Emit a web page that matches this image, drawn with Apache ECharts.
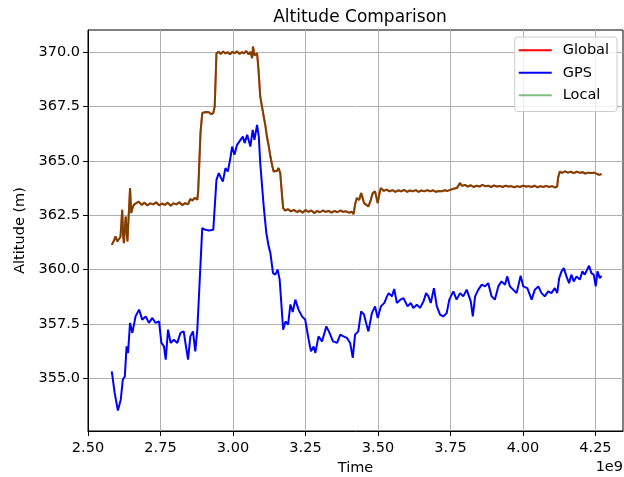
<!DOCTYPE html>
<html>
<head>
<meta charset="utf-8">
<script src="https://cdn.jsdelivr.net/npm/echarts@6/dist/echarts.min.js"></script>
<style>
    html, body {margin: 0; padding: 0; background: #fff;}
    #chart {width: 624px; height: 477px;}
</style>
</head>
<body>
<div id="chart"></div>
<script>
// time is in units of 1e9 (offset shown as "1e9" under the axis)
const globalTime = [2.582, 2.590, 2.595, 2.601, 2.607, 2.612, 2.618, 2.621, 2.624, 2.627, 2.630, 2.633, 2.636, 2.640, 2.645, 2.649, 2.654, 2.658, 2.665, 2.675,
    2.685, 2.695, 2.705, 2.715, 2.725, 2.735, 2.745, 2.755, 2.765, 2.775, 2.785, 2.795, 2.805, 2.815, 2.825, 2.835, 2.845, 2.853, 2.860, 2.868,
    2.877, 2.880, 2.888, 2.894, 2.900, 2.906, 2.911, 2.917, 2.925, 2.932, 2.937, 2.943, 2.950, 2.958, 2.966, 2.974, 2.982, 2.990, 2.998, 3.006,
    3.014, 3.022, 3.030, 3.038, 3.046, 3.054, 3.060, 3.066, 3.069, 3.074, 3.083, 3.088, 3.094, 3.100, 3.106, 3.112, 3.117, 3.123, 3.129, 3.135,
    3.140, 3.146, 3.152, 3.157, 3.163, 3.168, 3.173, 3.180, 3.190, 3.200, 3.210, 3.220, 3.230, 3.240, 3.250, 3.260, 3.270, 3.280, 3.290, 3.300,
    3.310, 3.320, 3.330, 3.340, 3.350, 3.360, 3.370, 3.380, 3.390, 3.400, 3.410, 3.416, 3.421, 3.427, 3.435, 3.442, 3.447, 3.452, 3.460, 3.467,
    3.475, 3.482, 3.490, 3.496, 3.499, 3.505, 3.510, 3.520, 3.530, 3.540, 3.550, 3.560, 3.570, 3.580, 3.590, 3.600, 3.610, 3.620, 3.630, 3.640,
    3.650, 3.660, 3.670, 3.680, 3.690, 3.700, 3.710, 3.720, 3.730, 3.740, 3.749, 3.760, 3.772, 3.783, 3.790, 3.800, 3.810, 3.820, 3.830, 3.840,
    3.850, 3.860, 3.870, 3.880, 3.890, 3.900, 3.910, 3.920, 3.930, 3.940, 3.950, 3.960, 3.970, 3.980, 3.990, 4.000, 4.010, 4.020, 4.030, 4.040,
    4.050, 4.060, 4.070, 4.080, 4.090, 4.100, 4.110, 4.118, 4.121, 4.127, 4.135, 4.145, 4.155, 4.165, 4.175, 4.185, 4.195, 4.205, 4.215, 4.225,
    4.235, 4.245, 4.255, 4.263, 4.271];
const globalAlt = [361.14, 361.35, 361.53, 361.30, 361.22, 361.50, 362.75, 361.60, 361.22, 361.90, 362.44, 361.80, 361.30, 362.40, 363.75, 362.60, 362.85, 362.98, 363.05, 363.13,
    362.98, 363.08, 362.95, 363.05, 363.00, 363.10, 362.96, 363.04, 362.98, 363.08, 362.94, 363.05, 363.00, 363.10, 362.97, 363.06, 363.00, 363.25, 363.18, 363.30,
    363.22, 363.60, 366.30, 367.20, 367.15, 367.25, 367.18, 367.24, 367.15, 367.20, 367.50, 369.95, 370.02, 369.92, 370.03, 369.94, 370.00, 369.90, 370.02, 369.95,
    370.04, 369.92, 370.00, 369.95, 370.05, 369.90, 370.02, 369.72, 370.26, 369.85, 369.95, 369.20, 367.96, 367.50, 367.04, 366.60, 366.12, 365.70, 365.20, 364.80,
    364.51, 364.60, 364.55, 364.67, 364.44, 363.60, 362.83, 362.72, 362.78, 362.68, 362.75, 362.65, 362.72, 362.62, 362.74, 362.66, 362.72, 362.60, 362.70, 362.64,
    362.72, 362.66, 362.70, 362.62, 362.70, 362.64, 362.72, 362.66, 362.68, 362.62, 362.66, 362.55, 363.00, 363.29, 363.20, 363.52, 363.30, 363.06, 362.98, 362.90,
    363.20, 363.52, 363.60, 363.67, 363.06, 363.50, 363.75, 363.62, 363.68, 363.60, 363.66, 363.58, 363.65, 363.60, 363.67, 363.58, 363.64, 363.60, 363.66, 363.58,
    363.64, 363.60, 363.66, 363.60, 363.65, 363.58, 363.62, 363.60, 363.65, 363.62, 363.67, 363.72, 363.75, 363.98, 363.85, 363.90, 363.82, 363.88, 363.80, 363.86,
    363.82, 363.90, 363.84, 363.86, 363.80, 363.87, 363.82, 363.85, 363.80, 363.86, 363.82, 363.84, 363.78, 363.84, 363.80, 363.86, 363.82, 363.84, 363.80, 363.86,
    363.78, 363.84, 363.80, 363.85, 363.80, 363.84, 363.78, 363.82, 364.21, 364.51, 364.45, 364.52, 364.46, 364.50, 364.44, 364.50, 364.46, 364.48, 364.42, 364.46,
    364.44, 364.46, 364.40, 364.36, 364.40];

const gpsTime = [2.582, 2.592, 2.603, 2.613, 2.620, 2.627, 2.633, 2.638, 2.645, 2.653, 2.664, 2.676, 2.687, 2.699, 2.710, 2.722, 2.733, 2.745, 2.753, 2.762,
    2.768, 2.776, 2.785, 2.796, 2.808, 2.819, 2.830, 2.836, 2.845, 2.853, 2.862, 2.870, 2.877, 2.894, 2.905, 2.917, 2.932, 2.943, 2.951, 2.959,
    2.965, 2.974, 2.982, 2.991, 2.997, 3.005, 3.014, 3.026, 3.034, 3.040, 3.049, 3.060, 3.068, 3.074, 3.083, 3.089, 3.094, 3.106, 3.115, 3.123,
    3.129, 3.138, 3.146, 3.154, 3.161, 3.173, 3.181, 3.190, 3.198, 3.206, 3.215, 3.226, 3.238, 3.249, 3.261, 3.269, 3.278, 3.284, 3.295, 3.307,
    3.322, 3.333, 3.345, 3.359, 3.370, 3.381, 3.393, 3.404, 3.413, 3.421, 3.432, 3.442, 3.452, 3.459, 3.467, 3.479, 3.490, 3.499, 3.510, 3.522,
    3.531, 3.537, 3.548, 3.556, 3.565, 3.577, 3.588, 3.602, 3.613, 3.622, 3.634, 3.645, 3.657, 3.666, 3.674, 3.682, 3.693, 3.703, 3.714, 3.725,
    3.737, 3.746, 3.760, 3.771, 3.783, 3.794, 3.806, 3.820, 3.827, 3.835, 3.846, 3.858, 3.869, 3.880, 3.892, 3.903, 3.915, 3.926, 3.938, 3.946,
    3.955, 3.966, 3.978, 3.992, 4.001, 4.015, 4.030, 4.041, 4.053, 4.064, 4.075, 4.087, 4.098, 4.110, 4.118, 4.125, 4.133, 4.141, 4.150, 4.159,
    4.167, 4.175, 4.185, 4.196, 4.205, 4.213, 4.228, 4.236, 4.244, 4.251, 4.257, 4.265, 4.271];
const gpsAlt = [355.32, 354.33, 353.52, 354.02, 354.94, 355.09, 356.47, 356.17, 357.55, 357.09, 357.85, 358.16, 357.70, 357.85, 357.55, 357.78, 357.55, 357.62, 356.63, 356.47,
    355.86, 357.24, 356.63, 356.78, 356.63, 357.09, 357.16, 356.63, 355.86, 356.93, 357.16, 356.24, 357.24, 361.91, 361.83, 361.80, 361.83, 364.13, 364.44, 364.21,
    364.05, 364.67, 364.51, 365.13, 365.66, 365.28, 365.74, 365.97, 366.12, 365.82, 366.20, 365.66, 366.43, 365.97, 366.66, 366.12, 364.90, 362.90, 361.68, 361.07,
    360.76, 359.84, 359.77, 360.00, 359.54, 357.24, 357.62, 357.47, 358.40, 358.05, 358.62, 358.16, 357.85, 357.70, 356.78, 356.24, 356.47, 356.17, 356.93, 356.70,
    357.39, 357.09, 356.70, 356.63, 357.01, 356.93, 356.86, 356.63, 355.94, 357.01, 357.16, 358.08, 357.93, 357.55, 357.16, 358.00, 358.31, 357.78, 358.31, 358.47,
    358.77, 358.92, 358.77, 359.11, 358.47, 358.62, 358.69, 358.31, 358.47, 358.24, 358.39, 358.24, 358.54, 358.92, 358.77, 358.47, 359.15, 358.31, 357.93, 357.85,
    358.00, 358.62, 359.00, 358.62, 358.92, 358.77, 359.08, 358.54, 357.85, 358.77, 359.08, 359.31, 359.23, 359.38, 358.77, 358.62, 359.23, 359.46, 359.31, 359.69,
    359.23, 359.08, 358.92, 359.72, 359.23, 359.15, 358.62, 359.08, 359.23, 358.92, 358.77, 359.00, 358.92, 359.15, 358.92, 359.61, 359.92, 360.07, 359.69, 359.38,
    359.77, 359.46, 359.69, 359.54, 359.92, 359.77, 360.18, 359.84, 359.77, 359.23, 359.92, 359.61, 359.72];

// the local estimate lies on top of the global one in this run
const localTime = globalTime;
const localAlt = globalAlt;

const xTicks = [2.50, 2.75, 3.00, 3.25, 3.50, 3.75, 4.00, 4.25];
const yTicks = [355.0, 357.5, 360.0, 362.5, 365.0, 367.5, 370.0];

const font = 'DejaVu Sans';
const pairs = function (xs, ys) {
    return xs.map((x, i) => [x, ys[i]]);
};
const lineSeries = function (name, xs, ys, color, opacity) {
    return {
        name: name,
        type: 'line',
        data: pairs(xs, ys),
        symbol: 'none',
        showSymbol: false,
        animation: false,
        lineStyle: {color: color, width: 2, opacity: opacity},
        itemStyle: {color: color, opacity: opacity}
    };
};

var chart = echarts.init(document.getElementById('chart'), null, {renderer: 'canvas'});
var option = {
    backgroundColor: '#fff',
    animation: false,
    title: {
        text: 'Altitude Comparison',
        left: 355, top: 4, textAlign: 'center',
        textStyle: {fontFamily: font, fontSize: 17, fontWeight: 'normal', color: '#000'}
    },
    legend: {
        orient: 'vertical',
        right: 7, top: 37,
        icon: 'rect',
        itemWidth: 33, itemHeight: 2, itemGap: 0,
        padding: [2, 8, 5, 4],
        backgroundColor: 'rgba(255,255,255,0.8)',
        borderColor: '#cccccc', borderWidth: 1, borderRadius: 3,
        textStyle: {fontFamily: font, fontSize: 14.5, color: '#000', lineHeight: 22.5, padding: [0, 0, 0, 6]},
        data: ['Global', 'GPS', 'Local']
    },
    grid: {left: 88, right: 1, top: 30, bottom: 46, show: true, borderColor: '#000', borderWidth: 1, outerBoundsMode: 'none'},
    xAxis: {
        type: 'value', min: 2.5, max: 4.345, interval: 0.25,
        name: 'Time', nameLocation: 'middle', nameGap: 30,
        nameTextStyle: {fontFamily: font, fontSize: 14.5, color: '#000'},
        axisLine: {lineStyle: {color: '#000', width: 1}},
        axisTick: {show: true, length: 5, lineStyle: {color: '#000'}, customValues: xTicks},
        axisLabel: {fontFamily: font, fontSize: 14.5, color: '#000', margin: 10, customValues: xTicks,
            formatter: v => v.toFixed(2)},
        splitLine: {show: true, lineStyle: {color: '#b0b0b0', width: 1}}
    },
    yAxis: {
        type: 'value', min: 352.58, max: 371.02, minInterval: 2.5, maxInterval: 2.5,
        name: 'Altitude (m)', nameLocation: 'middle', nameGap: 60, nameRotate: 90,
        nameTextStyle: {fontFamily: font, fontSize: 14.5, color: '#000'},
        axisLine: {show: true, lineStyle: {color: '#000', width: 1}},
        axisTick: {show: true, length: 5, lineStyle: {color: '#000'}, customValues: yTicks},
        axisLabel: {fontFamily: font, fontSize: 14.5, color: '#000', margin: 8, customValues: yTicks,
            formatter: v => v.toFixed(1)},
        splitLine: {show: true, lineStyle: {color: '#b0b0b0', width: 1}}
    },
    graphic: [{
        type: 'text', right: 1, top: 460,
        style: {text: '1e9', font: '14.5px "DejaVu Sans"', fill: '#000'}
    }],
    series: [
        lineSeries('Global', globalTime, globalAlt, '#ff0000', 1),
        lineSeries('GPS', gpsTime, gpsAlt, '#0000ff', 1),
        lineSeries('Local', localTime, localAlt, '#008000', 0.5)
    ]
};
chart.setOption(option);
</script>
</body>
</html>
